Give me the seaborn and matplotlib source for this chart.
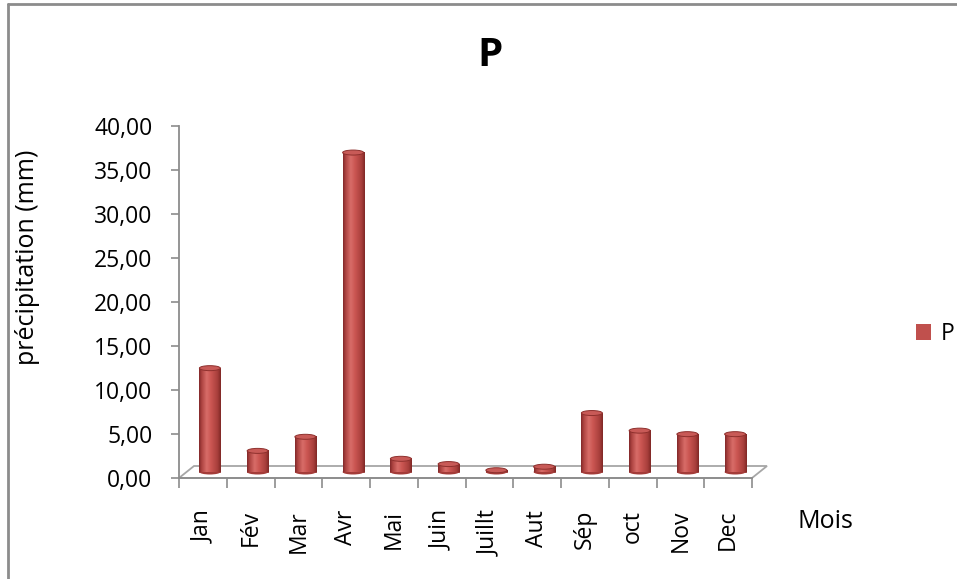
import numpy as np
import pandas as pd
import matplotlib
matplotlib.use("Agg")
import matplotlib.pyplot as plt
import matplotlib.transforms as mtransforms
from matplotlib.patches import Ellipse, Patch, Polygon
from matplotlib.lines import Line2D
from matplotlib.colors import LinearSegmentedColormap
import seaborn as sns

# Monthly precipitation (mm)
months = ["Jan", "Fév", "Mar", "Avr", "Mai", "Juin", "Juillt", "Aut", "Sép", "oct", "Nov", "Dec"]
precip = [11.8, 2.4, 4.0, 36.3, 1.5, 0.9, 0.2, 0.6, 6.7, 4.7, 4.3, 4.3]
yticks = [0, 5, 10, 15, 20, 25, 30, 35, 40]

df = pd.DataFrame({"Mois": pd.Categorical(months, categories=months, ordered=True), "P": precip})

sns.set_style("white")
plt.rcParams["font.family"] = ["Open Sans", "DejaVu Sans"]
plt.rcParams.update({"text.color": "black", "axes.labelcolor": "black",
                     "xtick.color": "black", "ytick.color": "black"})

DPI = 100
fig = plt.figure(figsize=(9.57, 5.79), dpi=DPI)
fig.patch.set_facecolor("white")
ax = fig.add_axes([179 / 957, 1 - 478 / 579, (752 - 179) / 957, (478 - 126) / 579])

BAR = "#C0504D"
GRID = "#8C8C8C"

sns.barplot(data=df, x="Mois", y="P", color=BAR, saturation=1, width=0.44, ax=ax, zorder=3)

ax.set_xlim(-0.5, 11.5)
ax.set_ylim(0, 40)

# pseudo-3D depth: bars sit mid-way into the floor, back edge deeper still
bar_shift = mtransforms.ScaledTranslation(7 / DPI, 6 / DPI, fig.dpi_scale_trans)
back_shift = (15, 12)

grad = LinearSegmentedColormap.from_list(
    "cyl",
    [(0.0, "#82292A"), (0.12, "#AE4441"), (0.35, "#D86C68"),
     (0.55, "#CB5652"), (0.85, "#A83F3C"), (1.0, "#802826")],
)
strip = grad(np.linspace(0, 1, 64))[np.newaxis, :, :]

cap_h = 5 / ((478 - 126) / 40)  # cap ellipse height in data units
for p in list(ax.patches):
    p.set_transform(ax.transData + bar_shift)
    p.set_edgecolor("#8E302D")
    p.set_linewidth(0.6)
    x0, w, h = p.get_x(), p.get_width(), p.get_height()
    ax.imshow(strip, extent=[x0, x0 + w, 0, h], aspect="auto",
              transform=ax.transData + bar_shift, zorder=3.5, interpolation="bilinear")
    ax.add_patch(Ellipse((x0 + w / 2, h), w, cap_h, transform=ax.transData + bar_shift,
                         facecolor="#C85A57", edgecolor="#8E302D", lw=0.7, zorder=4))
    ax.add_patch(Ellipse((x0 + w / 2, 0), w, cap_h, transform=ax.transData + bar_shift,
                         facecolor="#A43C39", edgecolor="none", lw=0, zorder=3.4))

ax.set_xlim(-0.5, 11.5)
ax.set_ylim(0, 40)

# floor of the 3D plot
fl = ax.transData.transform([(-0.5, 0), (11.5, 0)])
floor = np.array([fl[0], fl[1], fl[1] + back_shift, fl[0] + back_shift])
fig.add_artist(Polygon(floor, closed=True, transform=mtransforms.IdentityTransform(),
                       facecolor="white", edgecolor="#A6A6A6", lw=1.3, zorder=1))
ax.set_zorder(2)
ax.patch.set_alpha(0)

# axes styling
for s in ["top", "right"]:
    ax.spines[s].set_visible(False)
for s in ["left", "bottom"]:
    ax.spines[s].set_color(GRID)
    ax.spines[s].set_linewidth(1.3)

ax.set_yticks(yticks)
ax.set_yticklabels([f"{v:.2f}".replace(".", ",") for v in yticks])
ax.tick_params(axis="y", length=6, width=1.2, color=GRID, pad=13, labelsize=16.5,
               labelcolor="black", left=True)

ax.set_xticks(range(len(months)))
ax.set_xticklabels(months, rotation=90, fontsize=16.5)
ax.set_xticks(np.arange(-0.5, len(months), 1), minor=True)
ax.tick_params(axis="x", which="major", length=0, pad=23, labelcolor="black")
ax.tick_params(axis="x", which="minor", length=7, width=1.2, color=GRID, bottom=True)

ax.set_xlabel("")
ax.set_ylabel("précipitation (mm)", fontsize=18, color="black")
ax.yaxis.set_label_coords(40 / 957, 1 - 257 / 579, transform=fig.transFigure)

fig.text(490 / 957, 1 - 55 / 579, "P", fontsize=29, fontweight="bold", ha="center",
         va="center", color="black")
fig.text(797 / 957, 1 - 522 / 579, "Mois", fontsize=18, ha="left", va="center", color="black")

leg = ax.legend(handles=[Patch(facecolor=BAR, edgecolor="none")], labels=["P"],
                loc="center left", bbox_to_anchor=(905 / 957, 1 - 334 / 579),
                bbox_transform=fig.transFigure, frameon=False, fontsize=16.5,
                handlelength=0.65, handleheight=0.65, handletextpad=0.4, borderpad=0)
for t in leg.get_texts():
    t.set_color("black")

# chart frame
fig.add_artist(Line2D([8 / 957, 8 / 957], [0, 1 - 4 / 579], transform=fig.transFigure,
                      color="#8C8C8C", lw=2))
fig.add_artist(Line2D([8 / 957, 1], [1 - 4 / 579, 1 - 4 / 579], transform=fig.transFigure,
                      color="#8C8C8C", lw=2))

fig.savefig("out.png", dpi=DPI, facecolor="white")
